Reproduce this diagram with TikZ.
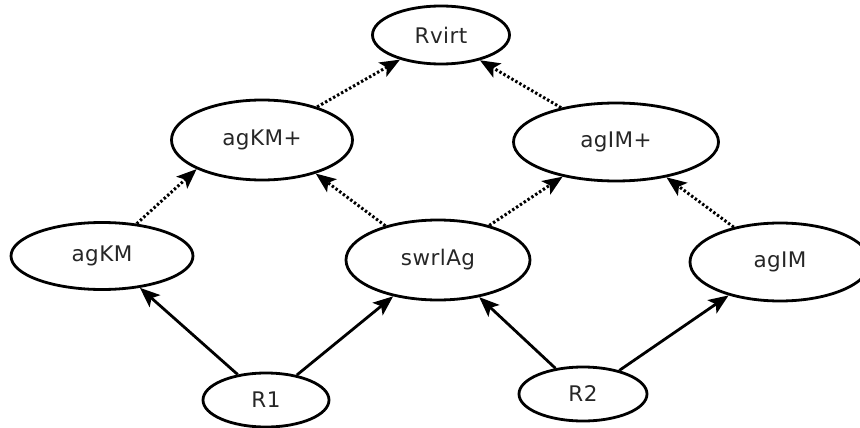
\documentclass[tikz,border=0pt]{standalone}
\usepackage{fontspec}
\setmainfont[LetterSpace=2]{DejaVu Sans}
\usetikzlibrary{arrows.meta,shapes.geometric}
\definecolor{labelgray}{gray}{0.15}
\tikzset{
  state/.style={ellipse, draw=black, line width=2.8pt, inner sep=0pt,
    text=labelgray, font=\fontsize{21.5}{24}\selectfont},
  strong/.style={line width=2.8pt, -{Stealth[length=20pt,width=16pt,inset=4.5pt]}},
  weak/.style={line width=3pt, dash pattern=on 2.4pt off 2.2pt,
    -{Stealth[length=20pt,width=16pt,inset=4.5pt]}},
}
\begin{document}
\begin{tikzpicture}[x=1pt, y=-1pt]
  \useasboundingbox (0,0) rectangle (860,428);
  \begin{scope}
    \clip (0,0) rectangle (860,428);
    % nodes
    \node[state, minimum width=137pt, minimum height=58pt] (rvirt) at (441,35) {Rvirt};
    \node[state, minimum width=181pt, minimum height=80pt] (agkmp) at (262,140) {agKM+};
    \node[state, minimum width=205pt, minimum height=78pt] (agimp) at (616,142) {agIM+};
    \node[state, minimum width=182pt, minimum height=67pt] (agkm) at (102,256) {agKM};
    \node[state, minimum width=184pt, minimum height=80pt] (swrl) at (438,260) {swrlAg};
    \node[state, minimum width=180pt, minimum height=78pt] (agim) at (780,262) {agIM};
    \node[state, minimum width=126pt, minimum height=54pt] (r1) at (266,400) {R1};
    \node[state, minimum width=128pt, minimum height=54pt] (r2) at (583,394) {R2};
    % solid edges
    \draw[strong] (r1.138) -- (agkm.-40);
    \draw[strong] (r1.39) -- (swrl.219);
    \draw[strong] (r2.137) -- (swrl.-42);
    \draw[strong] (r2.33) -- (agim.213);
    % dotted edges
    \draw[weak] (agkm.43) -- (agkmp.204);
    \draw[weak] (swrl.147) -- (agkmp.-32);
    \draw[weak] (swrl.34) -- (agimp.213);
    \draw[weak] (agim.143) -- (agimp.-35);
    \draw[weak] (agkmp.31) -- (rvirt.211);
    \draw[weak] (agimp.148) -- (rvirt.-33);
  \end{scope}
\end{tikzpicture}
\end{document}
